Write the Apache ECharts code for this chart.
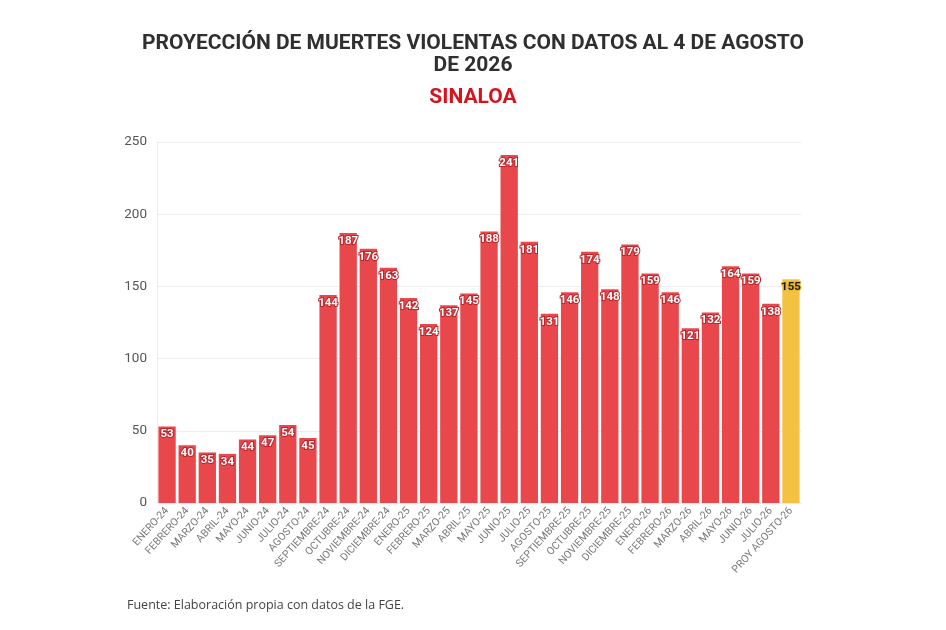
<!DOCTYPE html>
<html>
<head>
<meta charset="utf-8">
<script src="https://cdn.jsdelivr.net/npm/echarts@6/dist/echarts.min.js"></script>
<style>
	html, body { margin: 0; padding: 0; background: #fff; }
	#barEchart { width: 946px; height: 630px; }
</style>
</head>
<body>
<div id="barEchart"></div>
<script>
// meses (eje X)
var categorias = [
	'ENERO-24', 'FEBRERO-24', 'MARZO-24', 'ABRIL-24', 'MAYO-24', 'JUNIO-24', 'JULIO-24', 'AGOSTO-24',
	'SEPTIEMBRE-24', 'OCTUBRE-24', 'NOVIEMBRE-24', 'DICIEMBRE-24',
	'ENERO-25', 'FEBRERO-25', 'MARZO-25', 'ABRIL-25', 'MAYO-25', 'JUNIO-25', 'JULIO-25', 'AGOSTO-25',
	'SEPTIEMBRE-25', 'OCTUBRE-25', 'NOVIEMBRE-25', 'DICIEMBRE-25',
	'ENERO-26', 'FEBRERO-26', 'MARZO-26', 'ABRIL-26', 'MAYO-26', 'JUNIO-26', 'JULIO-26', 'PROY AGOSTO-26'
];
// muertes violentas por mes
var muertes = [
	53, 40, 35, 34, 44, 47, 54, 45, 144, 187, 176, 163,
	142, 124, 137, 145, 188, 241, 181, 131, 146, 174, 148, 179,
	159, 146, 121, 132, 164, 159, 138, 155
];
// ticks del eje Y
var ticksY = [0, 50, 100, 150, 200, 250];

var rojo = '#e8474b';
var amarillo = '#f4c243';

var myChart = echarts.init(document.getElementById('barEchart'));

// la última barra (proyección) va en amarillo
var datos = [];
for (var i = 0; i < muertes.length; i++) {
	var esProy = i === muertes.length - 1;
	datos.push({
		value: muertes[i],
		itemStyle: { color: esProy ? amarillo : rojo },
		label: esProy ? { color: '#1a1a1a', textBorderColor: '#e9b52c' } : {}
	});
}

var option = {
	animation: false,
	title: [{
		text: 'PROYECCIÓN DE MUERTES VIOLENTAS CON DATOS AL 4 DE AGOSTO\nDE 2026',
		left: 'center',
		top: 28,
		textStyle: {
			fontFamily: 'Roboto',
			fontWeight: 'bold',
			fontSize: 21,
			lineHeight: 22,
			color: '#2f2f2f'
		}
	}, {
		text: 'SINALOA',
		left: 'center',
		top: 82,
		textStyle: {
			fontFamily: 'Roboto',
			fontWeight: 'bold',
			fontSize: 21,
			color: '#d7121c'
		}
	}, {
		text: 'Fuente: Elaboración propia con datos de la FGE.',
		left: 122,
		top: 594,
		textStyle: {
			fontFamily: 'Open Sans',
			fontWeight: 'normal',
			fontSize: 12.5,
			color: '#444'
		}
	}],
	grid: {
		left: 157,
		right: 145,
		top: 142,
		bottom: 127
	},
	xAxis: {
		type: 'category',
		data: categorias,
		axisLine: { show: true, lineStyle: { color: '#eeeeee' } },
		axisTick: { show: false },
		axisLabel: {
			interval: 0,
			rotate: 48,
			fontFamily: 'Roboto',
			fontSize: 10.5,
			color: '#777',
			margin: 6
		}
	},
	yAxis: {
		type: 'value',
		min: ticksY[0],
		max: ticksY[ticksY.length - 1],
		interval: 50,
		axisLine: { show: true, lineStyle: { color: '#eeeeee' } },
		axisTick: { show: false },
		axisLabel: {
			fontFamily: 'Roboto',
			fontSize: 13.5,
			color: '#555',
			margin: 10
		},
		splitLine: { lineStyle: { color: '#eeeeee' } }
	},
	series: [{
		type: 'bar',
		data: datos,
		barCategoryGap: '14%',
		label: {
			show: true,
			position: 'insideTop',
			distance: 2,
			fontFamily: 'Roboto',
			fontWeight: 'bold',
			fontSize: 11.5,
			color: '#ffffff',
			textBorderColor: '#b8252b',
			textBorderWidth: 2
		}
	}]
};

myChart.setOption(option);
</script>
</body>
</html>
